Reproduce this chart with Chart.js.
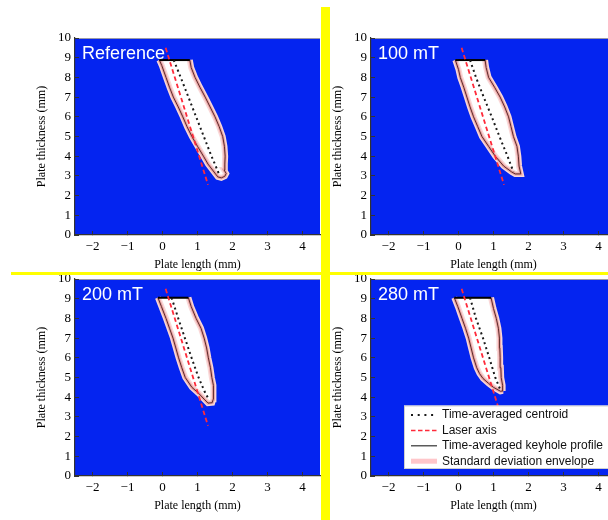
<!DOCTYPE html>
<html><head><meta charset="utf-8">
<script src="https://cdn.jsdelivr.net/npm/chart.js@4"></script>
<style>
html,body{margin:0;padding:0;background:#fff;width:608px;height:520px;overflow:hidden;position:relative}
canvas{position:absolute}
.bar{position:absolute;background:#ffff00}
</style></head><body>
<canvas id="c0" width="322" height="274" style="left:0px;top:0px"></canvas>
<canvas id="c1" width="322" height="274" style="left:296px;top:0px"></canvas>
<canvas id="c2" width="322" height="274" style="left:0px;top:241px"></canvas>
<canvas id="c3" width="322" height="274" style="left:296px;top:241px"></canvas>
<div class="bar" style="left:321px;top:7px;width:9px;height:513px"></div>
<div class="bar" style="left:11px;top:272px;width:597px;height:3px"></div>
<script>
// ---- data ----
const xTicks = [-2, -1, 0, 1, 2, 3, 4];
const yTicks = [0, 1, 2, 3, 4, 5, 6, 7, 8, 9, 10];
const panelTitles = ['Reference', '100 mT', '200 mT', '280 mT'];
const legendLabels = ['Time-averaged centroid', 'Laser axis', 'Time-averaged keyhole profile', 'Standard deviation envelope'];

const laserX = [0.09, 1.30];
const laserY = [9.50, 2.55];

const refProfileX = [-0.09,-0.02,0.10,0.20,0.31,0.45,0.58,0.70,0.84,1.00,1.17,1.30,1.45,1.58,1.68,1.78,1.82,1.76,1.78,1.79,1.77,1.72,1.62,1.50,1.36,1.22,1.07,0.93,0.82,0.78];
const refProfileY = [8.88,8.60,8.00,7.50,7.00,6.50,6.00,5.50,5.00,4.50,4.00,3.60,3.25,2.95,2.90,2.98,3.12,3.30,3.60,4.00,4.50,5.00,5.50,6.00,6.50,7.00,7.50,8.00,8.50,8.88];
const refCentroidX = [0.32,0.52,0.74,0.96,1.18,1.40,1.52,1.63];
const refCentroidY = [8.88,8.00,7.00,6.00,5.00,4.00,3.50,3.02];

const b100ProfileX = [-0.09,0.00,0.05,0.15,0.24,0.33,0.43,0.55,0.67,0.86,1.05,1.29,1.52,1.62,1.78,1.73,1.71,1.67,1.57,1.50,1.43,1.32,1.19,1.03,0.86,0.79,0.76];
const b100ProfileY = [8.88,8.40,8.00,7.50,7.00,6.50,6.00,5.50,5.00,4.50,4.00,3.50,3.20,3.10,3.10,3.50,4.00,4.50,5.00,5.50,6.00,6.50,7.00,7.50,8.00,8.50,8.88];
const b100CentroidX = [0.33,0.50,0.72,0.95,1.17,1.40,1.57];
const b100CentroidY = [8.88,8.00,7.00,6.00,5.00,4.00,3.21];

const b200ProfileX = [-0.13,-0.03,0.10,0.20,0.30,0.38,0.46,0.55,0.65,0.84,1.03,1.19,1.30,1.42,1.45,1.46,1.45,1.41,1.37,1.31,1.26,1.19,1.10,0.96,0.82,0.74];
const b200ProfileY = [9.05,8.60,8.00,7.50,7.00,6.50,6.00,5.50,5.00,4.50,4.20,3.90,3.70,3.72,3.90,4.20,4.60,5.00,5.50,6.00,6.50,7.00,7.50,8.00,8.60,9.05];
const b200CentroidX = [0.26,0.45,0.64,0.83,1.03,1.20,1.33];
const b200CentroidY = [9.05,8.00,7.00,6.00,5.00,4.30,3.86];

const b280ProfileX = [-0.12,-0.02,0.10,0.20,0.29,0.36,0.43,0.52,0.60,0.70,0.86,1.00,1.10,1.20,1.27,1.26,1.22,1.21,1.19,1.18,1.17,1.14,1.08,1.00,0.93];
const b280ProfileY = [9.05,8.60,8.00,7.50,7.00,6.50,6.00,5.50,5.20,4.95,4.70,4.50,4.40,4.30,4.32,4.60,5.00,5.50,6.00,6.50,7.00,7.50,8.00,8.50,9.05];
const b280CentroidX = [0.33,0.50,0.70,0.88,1.05,1.19];
const b280CentroidY = [9.05,8.00,7.00,6.00,5.00,4.40];

const panels = [
  [refProfileX, refProfileY, refCentroidX, refCentroidY],
  [b100ProfileX, b100ProfileY, b100CentroidX, b100CentroidY],
  [b200ProfileX, b200ProfileY, b200CentroidX, b200CentroidY],
  [b280ProfileX, b280ProfileY, b280CentroidX, b280CentroidY]
];

// ---- styles ----
const BLUE = '#0424f0';
const CENTROID = {color:'#1a1a1a', width:2, dash:[2,3.2]};
const LASER = {color:'#ff2a3a', width:1.8, dash:[4.5,3]};
const OUTLINE = {color:'#5a2a2a', width:1};
const ENV_OUT = {color:'#fad8d8', width:6};
const ENV_IN = {color:'#eaa4a4', width:3};

const pts = (xs, ys) => xs.map((x, i) => ({x: x, y: ys[i]}));

function makeDatasets(px, py, cx, cy) {
  const outline = pts(px, py);
  const closed = outline.concat([outline[0]]);
  const top = [outline[outline.length - 1], outline[0]];
  const base = {pointRadius:0, tension:0, fill:false, borderCapStyle:'butt', borderJoinStyle:'miter'};
  return [
    Object.assign({}, base, {data: pts(cx, cy), borderColor: CENTROID.color, borderWidth: CENTROID.width, borderDash: CENTROID.dash, order: 1}),
    Object.assign({}, base, {data: pts(laserX, laserY), borderColor: LASER.color, borderWidth: LASER.width, borderDash: LASER.dash, order: 2}),
    Object.assign({}, base, {data: top, borderColor: '#000', borderWidth: 2, order: 3}),
    Object.assign({}, base, {data: closed, borderColor: OUTLINE.color, borderWidth: OUTLINE.width, order: 4}),
    Object.assign({}, base, {data: outline, borderColor: ENV_IN.color, borderWidth: ENV_IN.width, order: 5}),
    Object.assign({}, base, {data: outline, borderColor: ENV_OUT.color, borderWidth: ENV_OUT.width, order: 6}),
    Object.assign({}, base, {data: closed, borderWidth: 0, borderColor: 'rgba(0,0,0,0)', backgroundColor: '#ffffff', fill: 'shape', order: 7})
  ];
}

const bgPlugin = {
  id: 'bg',
  beforeDraw(chart) {
    const {ctx, chartArea: a} = chart;
    ctx.save();
    ctx.fillStyle = BLUE;
    ctx.fillRect(a.left, a.top, a.right - a.left, a.bottom - a.top);
    ctx.strokeStyle = '#9a9aa8';
    ctx.lineWidth = 1;
    ctx.beginPath(); ctx.moveTo(a.left, a.top + 0.5); ctx.lineTo(a.right, a.top + 0.5); ctx.stroke();
    ctx.restore();
  }
};

const titlePlugin = {
  id: 'ptitle',
  afterDatasetsDraw(chart, args, opts) {
    const {ctx, chartArea: a} = chart;
    ctx.save();
    ctx.fillStyle = '#ffffff';
    ctx.font = '18px "Liberation Sans", Arial, sans-serif';
    ctx.textBaseline = 'alphabetic';
    ctx.textAlign = 'left';
    ctx.fillText(opts.text, a.left + 7, a.top + 20.5);
    ctx.restore();
  }
};

const legendPlugin = {
  id: 'keyLegend',
  afterDraw(chart, args, opts) {
    if (!opts.show) return;
    const {ctx, chartArea: a} = chart;
    const L = a.left + 33, T = a.top + 126.5, W = a.right - 4 - L, H = 63.5;
    ctx.save();
    ctx.fillStyle = '#ffffff';
    ctx.fillRect(L, T, W, H);
    ctx.strokeStyle = '#cfcfcf'; ctx.lineWidth = 1;
    ctx.strokeRect(L + 0.5, T + 0.5, W - 1, H - 1);
    const styles = [
      {color: CENTROID.color, width: 2, dash: [2, 4.7]},
      {color: LASER.color, width: 1.5, dash: [4.5, 2.5]},
      {color: '#333333', width: 1.2, dash: []},
      {color: '#ffc6ca', width: 5, dash: []}
    ];
    ctx.font = '12px "Liberation Sans", Arial, sans-serif';
    ctx.textBaseline = 'middle';
    legendLabels.forEach((t, i) => {
      const y = a.top + 136 + i * 15.4;
      const s = styles[i];
      ctx.strokeStyle = s.color; ctx.lineWidth = s.width; ctx.setLineDash(s.dash);
      ctx.beginPath(); ctx.moveTo(L + 7, y); ctx.lineTo(L + 33, y); ctx.stroke();
      ctx.setLineDash([]);
      ctx.fillStyle = '#111';
      ctx.fillText(t, L + 38, y);
    });
    ctx.restore();
  }
};

const serif = '"Liberation Serif", "Times New Roman", serif';
const minus = v => String(v).replace('-', '\u2212');

panels.forEach((p, k) => {
  new Chart(document.getElementById('c' + k), {
    type: 'line',
    data: {datasets: makeDatasets(p[0], p[1], p[2], p[3])},
    options: {
      responsive: false, animation: false, events: [],
      layout: {padding: {top: 38, right: 2, left: 0, bottom: 0}},
      plugins: {
        legend: {display: false}, tooltip: {enabled: false},
        ptitle: {text: panelTitles[k]},
        keyLegend: {show: k === 3}
      },
      scales: {
        x: {
          type: 'linear', min: -2.5, max: 4.5,
          afterBuildTicks: s => { s.ticks = xTicks.map(v => ({value: v})); },
          afterFit: s => { s.height = 39; },
          grid: {drawOnChartArea: false, drawTicks: true, tickLength: -4, color: '#333', lineWidth: 1},
          border: {color: '#333', width: 1.2},
          ticks: {padding: 8, color: '#000', font: {family: serif, size: 13}, callback: minus, maxRotation: 0},
          title: {display: true, text: 'Plate length (mm)', color: '#000', font: {family: serif, size: 12}, padding: {top: 0, bottom: 2}}
        },
        y: {
          type: 'linear', min: 0, max: 10,
          afterBuildTicks: s => { s.ticks = yTicks.map(v => ({value: v})); },
          afterFit: s => { s.width = 75; },
          grid: {drawOnChartArea: false, drawTicks: true, tickLength: -4, color: '#333', lineWidth: 1},
          border: {color: '#333', width: 1.2},
          ticks: {padding: 8, color: '#000', font: {family: serif, size: 13}, callback: minus},
          title: {display: true, text: 'Plate thickness (mm)', color: '#000', font: {family: serif, size: 12}, padding: {top: 35, bottom: 0}}
        }
      }
    },
    plugins: [bgPlugin, titlePlugin, legendPlugin]
  });
});
</script>
</body></html>
